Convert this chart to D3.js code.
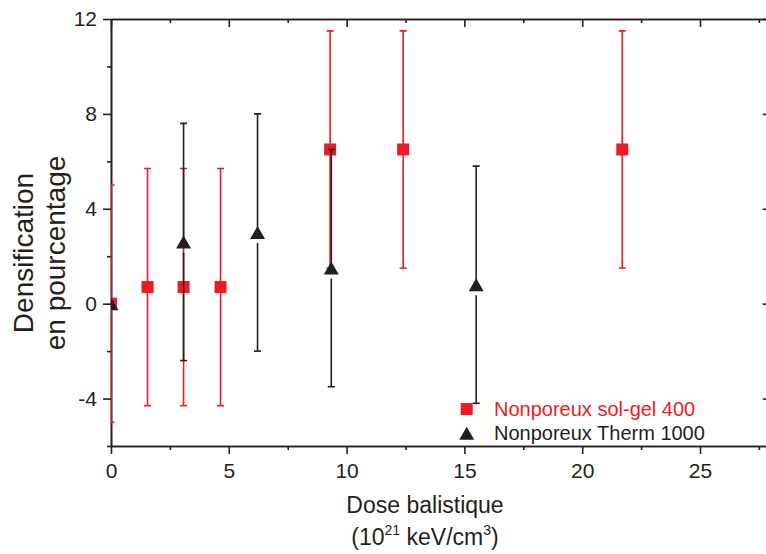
<!DOCTYPE html>
<html>
<head>
<meta charset="utf-8">
<script src="https://cdn.jsdelivr.net/npm/d3@7"></script>
<style>
  html, body { margin: 0; padding: 0; background: #fff; }
  svg { display: block; font-family: "Liberation Sans", Arial, sans-serif; }
</style>
</head>
<body>
<svg id="chart" width="766" height="554"></svg>
<script>
// ---- data ----
const solgelX   = [0, 1.55, 3.08, 4.65, 9.3, 12.4, 21.7];
const solgelY   = [0, 0.7, 0.7, 0.7, 6.5, 6.5, 6.5];
const solgelErr = [5, 5, 5, 5, 5, 5, 5];

const thermX   = [0, 3.08, 6.22, 9.35, 15.5];
const thermY   = [0, 2.6, 3.0, 1.5, 0.8];
const thermErr = [0, 5, 5, 5, 5];

const xMajor = [0, 5, 10, 15, 20, 25];
const xMinor = [2.5, 7.5, 12.5, 17.5, 22.5, 27.5];
const yMajor = [-4, 0, 4, 8, 12];
const yMinor = [-6, -2, 2, 6, 10];

const seriesNames = ["Nonporeux sol-gel 400", "Nonporeux Therm 1000"];
const RED = "#ed1c24", BLACK = "#231f20";

// ---- layout ----
const svg = d3.select("#chart");
const L = 111, T = 19, B = 446;
const x = d3.scaleLinear().domain([0, 28]).range([L, L + 28 * 23.56]);
const y = d3.scaleLinear().domain([-6, 12]).range([B, T]);
const R = x(28);
const fmt = d => String(d);

function styleAxis(g) {
  g.select(".domain").attr("stroke", BLACK).attr("stroke-width", 1.6);
  g.selectAll(".tick line").attr("stroke", BLACK).attr("stroke-width", 1.6);
  g.selectAll(".tick text").attr("fill", BLACK).attr("font-size", 21)
    .attr("font-family", "Liberation Sans, Arial, sans-serif");
}

// bottom
svg.append("g").attr("transform", `translate(0,${B})`)
  .call(d3.axisBottom(x).tickValues(xMajor).tickSize(8).tickSizeOuter(0).tickPadding(9).tickFormat(fmt))
  .call(styleAxis);
svg.append("g").attr("transform", `translate(0,${B})`)
  .call(d3.axisBottom(x).tickValues(xMinor).tickSize(4).tickSizeOuter(0).tickFormat(""))
  .call(styleAxis);
// top (inward)
svg.append("g").attr("transform", `translate(0,${T})`)
  .call(d3.axisBottom(x).tickValues(xMajor).tickSize(8).tickSizeOuter(0).tickFormat(""))
  .call(styleAxis);
svg.append("g").attr("transform", `translate(0,${T})`)
  .call(d3.axisBottom(x).tickValues(xMinor).tickSize(4).tickSizeOuter(0).tickFormat(""))
  .call(styleAxis);
// left
svg.append("g").attr("transform", `translate(${L},0)`)
  .call(d3.axisLeft(y).tickValues(yMajor).tickSize(8).tickSizeOuter(0).tickPadding(6).tickFormat(fmt))
  .call(styleAxis);
svg.append("g").attr("transform", `translate(${L},0)`)
  .call(d3.axisLeft(y).tickValues(yMinor).tickSize(4).tickSizeOuter(0).tickFormat(""))
  .call(styleAxis);
// right (inward)
svg.append("g").attr("transform", `translate(${R},0)`)
  .call(d3.axisLeft(y).tickValues(yMajor).tickSize(8).tickSizeOuter(0).tickFormat(""))
  .call(styleAxis);
svg.append("g").attr("transform", `translate(${R},0)`)
  .call(d3.axisLeft(y).tickValues(yMinor).tickSize(4).tickSizeOuter(0).tickFormat(""))
  .call(styleAxis);

// clip
svg.append("clipPath").attr("id", "plotclip").append("rect")
  .attr("x", L).attr("y", T).attr("width", R - L).attr("height", B - T);
const plot = svg.append("g").attr("clip-path", "url(#plotclip)");

const capW = 3.5;
const triW = 15, triH = 13;
const triPath = (cx, cy) => `M${cx},${cy - triH / 2}L${cx + triW / 2},${cy + triH / 2}L${cx - triW / 2},${cy + triH / 2}Z`;

// sol-gel error bars & squares
const sg = solgelX.map((d, i) => ({ x: d, y: solgelY[i], e: solgelErr[i] }));
const sgErr = plot.append("g").attr("stroke", RED).attr("stroke-width", 1.6).attr("fill", "none");
sg.forEach(d => {
  if (!d.e) return;
  const cx = x(d.x), y1 = y(d.y + d.e), y2 = y(d.y - d.e);
  sgErr.append("line").attr("x1", cx).attr("x2", cx).attr("y1", y1).attr("y2", y2);
  sgErr.append("line").attr("x1", cx - capW).attr("x2", cx + capW).attr("y1", y1).attr("y2", y1);
  sgErr.append("line").attr("x1", cx - capW).attr("x2", cx + capW).attr("y1", y2).attr("y2", y2);
});
plot.append("g").selectAll("rect").data(sg).join("rect")
  .attr("x", d => x(d.x) - 6).attr("y", d => y(d.y) - 6)
  .attr("width", 12).attr("height", 12).attr("fill", RED);

// therm error bars & triangles
const th = thermX.map((d, i) => ({ x: d, y: thermY[i], e: thermErr[i] }));
const thErr = plot.append("g").attr("stroke", BLACK).attr("stroke-width", 1.6).attr("fill", "none");
th.forEach(d => {
  if (!d.e) return;
  const cx = x(d.x), cy = y(d.y), y1 = y(d.y + d.e), y2 = y(d.y - d.e);
  thErr.append("line").attr("x1", cx).attr("x2", cx).attr("y1", y1).attr("y2", cy);
  thErr.append("line").attr("x1", cx).attr("x2", cx).attr("y1", cy + triH / 2 + 4).attr("y2", y2);
  thErr.append("line").attr("x1", cx - capW).attr("x2", cx + capW).attr("y1", y1).attr("y2", y1);
  thErr.append("line").attr("x1", cx - capW).attr("x2", cx + capW).attr("y1", y2).attr("y2", y2);
});
plot.append("g").selectAll("path").data(th).join("path")
  .attr("d", d => triPath(x(d.x), y(d.y))).attr("fill", BLACK);

// legend
const lg = svg.append("g");
lg.append("rect").attr("x", 466.7 - 6).attr("y", 409 - 6).attr("width", 12).attr("height", 12).attr("fill", RED);
lg.append("path").attr("d", triPath(466.7, 433.3)).attr("fill", BLACK);
lg.append("text").attr("x", 494).attr("y", 415.5).attr("font-size", 20).attr("fill", RED).text(seriesNames[0]);
lg.append("text").attr("x", 494).attr("y", 440).attr("font-size", 20).attr("fill", BLACK).text(seriesNames[1]);

// axis titles
svg.append("text").attr("x", 425).attr("y", 513).attr("text-anchor", "middle")
  .attr("font-size", 23).attr("fill", BLACK).text("Dose balistique");
const t2 = svg.append("text").attr("x", 425).attr("y", 545).attr("text-anchor", "middle")
  .attr("font-size", 23).attr("fill", BLACK);
t2.append("tspan").text("(10");
t2.append("tspan").attr("font-size", 14).attr("dy", -10).text("21");
t2.append("tspan").attr("dy", 10).text(" keV/cm");
t2.append("tspan").attr("font-size", 14).attr("dy", -10).text("3");
t2.append("tspan").attr("dy", 10).text(")");

const yt = svg.append("g").attr("transform", "translate(0,253) rotate(-90)");
yt.append("text").attr("x", 0).attr("y", 33).attr("text-anchor", "middle")
  .attr("font-size", 28).attr("fill", BLACK).text("Densification");
yt.append("text").attr("x", 0).attr("y", 65).attr("text-anchor", "middle")
  .attr("font-size", 28).attr("fill", BLACK).text("en pourcentage");
</script>
</body>
</html>
